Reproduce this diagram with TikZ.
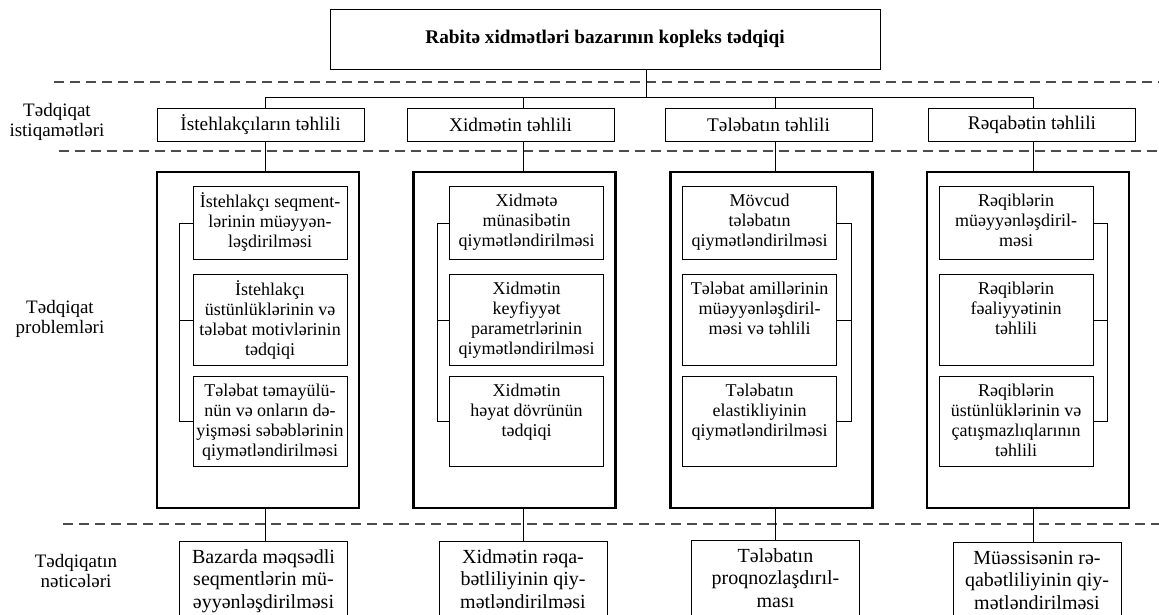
\documentclass[tikz,border=0pt]{standalone}
\usepackage{fontspec}
\setmainfont{Liberation Serif}
\usetikzlibrary{positioning}

\newcommand{\boxfont}{\fontsize{18}{20}\selectfont}
\newcommand{\headfont}{\fontsize{19.3}{21}\selectfont}
\newcommand{\resfont}{\fontsize{20}{22.5}\selectfont}
\newcommand{\cellbox}[3]{\parbox[c][#2][t]{#1}{\centering\vspace*{6pt}\strut #3}}

\begin{document}
\begin{tikzpicture}[x = 1pt, y = -1pt, font = \boxfont,
	cell/.style = {draw, line width = 0.9pt, inner sep = 0pt},
	dirbox/.style = {cell, minimum width = 207pt, minimum height = 33pt, font = \headfont},
	resbox/.style = {cell, anchor = north, font = \resfont},
	side/.style = {align = center, font = \fontsize{19}{20.5}\selectfont},
	frame/.style = {draw, line width = 2.2pt, minimum width = 202pt, minimum height = 336pt},
	sep/.style = {draw = black!70, line width = 1.4pt, dash pattern = on 10pt off 6pt},
	link/.style = {line width = 0.9pt}]

	% Canvas
	
	\useasboundingbox (0, 0) rectangle (1159, 614);
	
	% Dashed separators
	
	\draw [sep] (54, 82) -- (1159, 82);
	\draw [sep] (59, 151) -- (1159, 151);
	\draw [sep] (63, 524) -- (1159, 524);
	
	% Title
	
	\node [cell, minimum width = 550pt, minimum height = 60pt, font = \headfont\bfseries] (title) at (605, 39) {Rabitə xidmətləri bazarının kopleks tədqiqi};
	
	% Research directions
	
	\node [dirbox] (dir1) at (260.5, 124.5) {İstehlakçıların təhlili};
	\node [dirbox] (dir2) at (510.5, 124.5) {Xidmətin təhlili};
	\node [dirbox] (dir3) at (768.5, 124.5) {Tələbatın təhlili};
	\node [dirbox] (dir4) at (1032, 124.5) {Rəqabətin təhlili};
	
	% Research problems
	
	\node [frame] (prob1) at (258, 340) {};
	\node [frame] (prob2) at (514.5, 340) {};
	\node [frame] (prob3) at (771.5, 340) {};
	\node [frame] (prob4) at (1028, 340) {};
	
	\node [cell, anchor = north] (t11) at (270, 186) {\cellbox{154pt}{73pt}{İstehlakçı seqment-\\lərinin müəyyən-\\ləşdirilməsi}};
	\node [cell, anchor = north] (t12) at (270, 274) {\cellbox{154pt}{91pt}{İstehlakçı\\üstünlüklərinin və\\tələbat motivlərinin\\tədqiqi}};
	\node [cell, anchor = north] (t13) at (270, 376) {\cellbox{154pt}{90pt}{Tələbat təmayülü-\\nün və onların də-\\yişməsi səbəblərinin\\qiymətləndirilməsi}};
	
	\node [cell, anchor = north] (t21) at (526.5, 186) {\cellbox{154pt}{73pt}{Xidmətə\\münasibətin\\qiymətləndirilməsi}};
	\node [cell, anchor = north] (t22) at (526.5, 274) {\cellbox{154pt}{91pt}{Xidmətin\\keyfiyyət\\parametrlərinin\\qiymətləndirilməsi}};
	\node [cell, anchor = north] (t23) at (526.5, 376) {\cellbox{154pt}{90pt}{Xidmətin\\həyat dövrünün\\tədqiqi}};
	
	\node [cell, anchor = north] (t31) at (759.5, 186) {\cellbox{154pt}{73pt}{Mövcud\\tələbatın\\qiymətləndirilməsi}};
	\node [cell, anchor = north] (t32) at (759.5, 274) {\cellbox{154pt}{91pt}{Tələbat amillərinin\\müəyyənləşdiril-\\məsi və təhlili}};
	\node [cell, anchor = north] (t33) at (759.5, 376) {\cellbox{154pt}{90pt}{Tələbatın\\elastikliyinin\\qiymətləndirilməsi}};
	
	\node [cell, anchor = north] (t41) at (1016, 186) {\cellbox{154pt}{73pt}{Rəqiblərin\\müəyyənləşdiril-\\məsi}};
	\node [cell, anchor = north] (t42) at (1016, 274) {\cellbox{154pt}{91pt}{Rəqiblərin\\fəaliyyətinin\\təhlili}};
	\node [cell, anchor = north] (t43) at (1016, 376) {\cellbox{154pt}{90pt}{Rəqiblərin\\üstünlüklərinin və\\çatışmazlıqlarının\\təhlili}};
	
	% Research results
	
	\node [resbox] (res1) at (263.5, 541) {\cellbox{168pt}{80pt}{Bazarda məqsədli\\seqmentlərin mü-\\əyyənləşdirilməsi}};
	\node [resbox] (res2) at (523, 541) {\cellbox{168pt}{80pt}{Xidmətin rəqa-\\bətliliyinin qiy-\\mətləndirilməsi}};
	\node [resbox] (res3) at (775.5, 540) {\cellbox{168pt}{80pt}{Tələbatın\\proqnozlaşdırıl-\\ması}};
	\node [resbox] (res4) at (1037, 542) {\cellbox{168pt}{80pt}{Müəssisənin rə-\\qabətliliyinin qiy-\\mətləndirilməsi}};
	
	% Side labels
	
	\node [side] (lbldir) at (57, 122) {Tədqiqat\\istiqamətləri};
	\node [side] (lblprob) at (60, 319) {Tədqiqat\\problemləri};
	\node [side] (lblres) at (76, 571) {Tədqiqatın\\nəticələri};
	
	% Connectors
	
	\coordinate (top) at (646, 97);
	\draw [link] (title.south -| top) -- (top);
	
	\foreach \c/\s in {1/265, 2/523, 3/775, 4/1033}
	{
		\coordinate (bus\c) at (\s, 97);
		\draw [link] (bus\c) -- (bus\c |- dir\c.north);
		\draw [link] (bus\c |- dir\c.south) -- (bus\c |- prob\c.north);
		\draw [link] (bus\c |- prob\c.south) -- (bus\c |- res\c.north);
	}
	\draw [link] (bus1) -- (bus4);
	
	% Brackets
	
	\foreach \c/\b/\sd in {1/179/west, 2/437/west, 3/851/east, 4/1107/east}
	{
		\coordinate (br\c) at (\b, 0);
		\draw [link] (t\c1.\sd) -- (br\c |- t\c1.\sd) -- (br\c |- t\c3.\sd) -- (t\c3.\sd);
		\draw [link] (t\c2.\sd) -- (br\c |- t\c2.\sd);
	}
	
\end{tikzpicture}
\end{document}
